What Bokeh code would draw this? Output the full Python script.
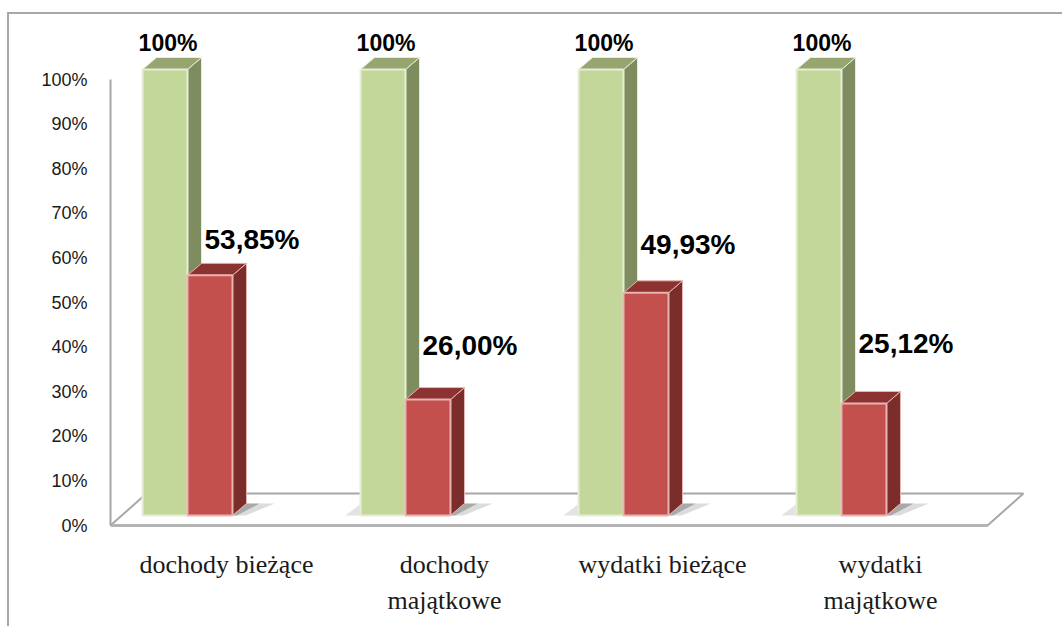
from bokeh.plotting import figure
from bokeh.models import FixedTicker, ColumnDataSource, PrintfTickFormatter
from bokeh.core.properties import value
from bokeh.embed import file_html
from bokeh.resources import INLINE

# ---------------- data ----------------
categories = ["dochody bieżące", "dochody\nmajątkowe", "wydatki bieżące", "wydatki\nmajątkowe"]
plan_values = [100.0, 100.0, 100.0, 100.0]
exec_values = [53.85, 26.00, 49.93, 25.12]
plan_labels = ["100%", "100%", "100%", "100%"]
exec_labels = ["53,85%", "26,00%", "49,93%", "25,12%"]
y_ticks = [0, 10, 20, 30, 40, 50, 60, 70, 80, 90, 100]

# ---------------- layout (pixel geometry of the 3-D look) ----------------
PX_X = 218.0          # px per category
PX_Y = 4.46           # px per percent
bar_w = 45 / PX_X
split = 39 / PX_X     # green/red boundary sits left of the category tick
dep_x = 14 / PX_X
dep_y = 12 / PX_Y
lift = 10 / PX_Y      # bars stand 10 px behind the floor's front edge
floor_dx = 36 / PX_X
floor_dy = 32 / PX_Y
x_left = -116 / PX_X
x_right = 830 / PX_X
floor_right = 761 / PX_X
y_top = 517 / PX_Y
y_bot = -7 / PX_Y
exec_label_lift = [10.3, 14.4, 13.1, 15.7]

p = figure(frame_width=946, frame_height=524, x_range=(x_left, x_right), y_range=(y_bot, y_top),
           output_backend="svg", toolbar_location=None,
           min_border_left=110, min_border_right=6, min_border_top=8, min_border_bottom=94)
p.grid.visible = False
p.outline_line_color = None
p.background_fill_color = None
p.border_fill_color = None
# outer chart border: only its top and left edges show in the picture
p.styles = {"box-shadow": "inset 7px 12px 0 0 #ffffff, inset 9px 14px 0 0 #a8a8a8",
            "background-color": "#ffffff"}

# floor
fx = [x_left, floor_right, floor_right + floor_dx, x_left + floor_dx]
fy = [0, 0, floor_dy, floor_dy]
p.patch(fx, fy, fill_color="white", line_color="#a8a8a8", line_width=2)
p.line([x_left, floor_right], [0, 0], line_color="#b4b4b4", line_width=3)

# bar geometry
n = len(categories)
g_x0 = [i - split - bar_w for i in range(n)]
g_x1 = [i - split for i in range(n)]
r_x0 = [i - split for i in range(n)]
r_x1 = [i - split + bar_w for i in range(n)]
b0 = lift

def faces(x0s, x1s, vals):
    side_xs, side_ys, top_xs, top_ys = [], [], [], []
    for x0, x1, v in zip(x0s, x1s, vals):
        t = v + lift
        side_xs.append([x1, x1 + dep_x, x1 + dep_x, x1])
        side_ys.append([b0, b0 + dep_y, t + dep_y, t])
        top_xs.append([x0, x1, x1 + dep_x, x0 + dep_x])
        top_ys.append([t, t, t + dep_y, t + dep_y])
    return side_xs, side_ys, top_xs, top_ys

# soft shadows on the floor
sh_xs, sh_ys = [], []
for i in range(n):
    x = r_x1[i]
    sh_xs.append([x, x + dep_x, x + dep_x + 0.13, x + 0.06])
    sh_ys.append([b0, b0 + dep_y, b0 + dep_y, b0])
p.patches(sh_xs, sh_ys, fill_color="#9a9a9a", fill_alpha=0.35, line_color=None)
sh2_xs, sh2_ys = [], []
for i in range(n):
    x = r_x1[i]
    sh2_xs.append([x, x + dep_x, x + dep_x + 0.06, x + 0.02])
    sh2_ys.append([b0, b0 + dep_y, b0 + dep_y, b0])
p.patches(sh2_xs, sh2_ys, fill_color="#6a6a6a", fill_alpha=0.45, line_color=None)
gl_xs, gl_ys = [], []
for i in range(1, n):
    x = g_x0[i]
    gl_xs.append([x - 0.07, x, x + dep_x, x + dep_x - 0.06])
    gl_ys.append([b0, b0, b0 + dep_y, b0 + dep_y])
p.patches(gl_xs, gl_ys, fill_color="#b0b0b0", fill_alpha=0.35, line_color=None)

# green (plan) bars
sx, sy, tx, ty = faces(g_x0, g_x1, plan_values)
p.patches(sx, sy, fill_color="#7f8c5f", line_color="#e6eed5", line_width=1)
p.patches(tx, ty, fill_color="#97a571", line_color="#e6eed5", line_width=1)
p.quad(left=g_x0, right=g_x1, bottom=[b0] * n, top=[v + lift for v in plan_values],
       fill_color="#c4d79b", line_color="#e6eed5", line_width=2)

# red (execution) bars
sx, sy, tx, ty = faces(r_x0, r_x1, exec_values)
p.patches(sx, sy, fill_color="#7b2d2c", line_color="#e8b4b2", line_width=1)
p.patches(tx, ty, fill_color="#8c3331", line_color="#e8b4b2", line_width=1)
p.quad(left=r_x0, right=r_x1, bottom=[b0] * n, top=[v + lift for v in exec_values],
       fill_color="#c4504d", line_color="#e8b4b2", line_width=2)

# data labels
plan_src = ColumnDataSource(dict(
    x=[x0 + bar_w / 2 + 3 / PX_X for x0 in g_x0],
    y=[v + lift + 27 / PX_Y for v in plan_values],
    t=plan_labels))
p.text("x", "y", "t", source=plan_src, text_align="center", text_baseline="middle",
       text_font=value("Liberation Sans"), text_font_style="bold",
       text_font_size="23px", text_color="#000000")
exec_src = ColumnDataSource(dict(
    x=[x0 + bar_w / 2 + 42 / PX_X for x0 in r_x0],
    y=[v + d for v, d in zip(exec_values, exec_label_lift)],
    t=exec_labels))
p.text("x", "y", "t", source=exec_src, text_align="center", text_baseline="middle",
       text_font=value("Liberation Sans"), text_font_style="bold",
       text_font_size="28px", text_color="#000000")

# y axis
ya = p.yaxis[0]
ya.ticker = FixedTicker(ticks=y_ticks)
ya.formatter = PrintfTickFormatter(format="%d%%")
ya.bounds = (0, 100)
ya.axis_line_color = "#a6a6a6"
ya.axis_line_width = 2
ya.major_tick_line_color = None
ya.minor_tick_line_color = None
ya.major_label_standoff = 17
ya.major_label_text_font = "Liberation Sans"
ya.major_label_text_font_size = "18px"
ya.major_label_text_color = "#1a1a1a"

# x axis
xa = p.xaxis[0]
xa.ticker = FixedTicker(ticks=list(range(n)))
xa.major_label_overrides = {i: c for i, c in enumerate(categories)}
xa.axis_line_color = None
xa.major_tick_line_color = None
xa.minor_tick_line_color = None
xa.major_label_standoff = 11
xa.major_label_text_font = "Liberation Serif"
xa.major_label_text_font_size = "26px"
xa.major_label_text_color = "#1a1a1a"
xa.major_label_text_line_height = 1.25

open("out.html", "w").write(file_html(p, INLINE))
